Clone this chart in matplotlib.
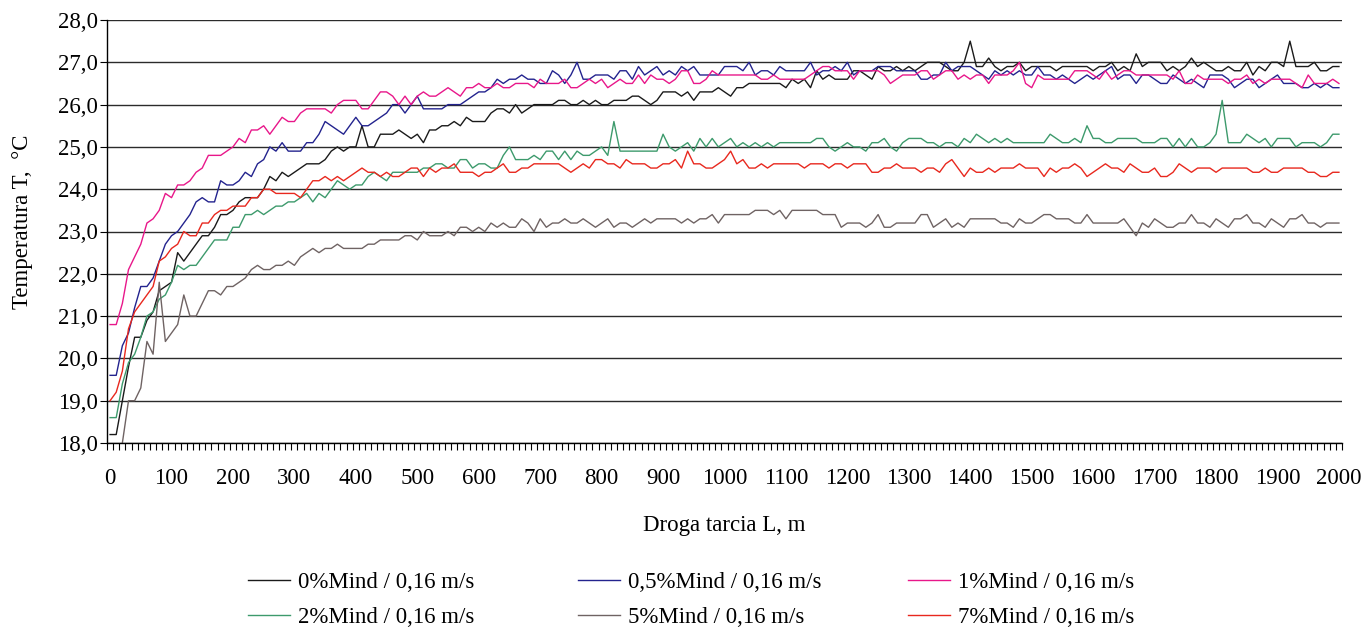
import numpy as np
import matplotlib
matplotlib.use('Agg')
import matplotlib.pyplot as plt
from matplotlib.ticker import FuncFormatter

plt.rcParams['font.family'] = ['Liberation Serif', 'DejaVu Serif']

# distance along the track, one reading every 10 m
distance = np.arange(0, 2001, 10)

t_0 = [
    18.2, 18.2, 19.0, 19.8, 20.5, 20.5, 20.9, 21.1, 21.6, 21.7,
    21.8, 22.5, 22.3, 22.5, 22.7, 22.9, 22.9, 23.1, 23.4, 23.4,
    23.5, 23.7, 23.8, 23.8, 23.8, 24.0, 24.3, 24.2, 24.4, 24.3,
    24.4, 24.5, 24.6, 24.6, 24.6, 24.7, 24.9, 25.0, 24.9, 25.0,
    25.0, 25.5, 25.0, 25.0, 25.3, 25.3, 25.3, 25.4, 25.3, 25.2,
    25.3, 25.1, 25.4, 25.4, 25.5, 25.5, 25.6, 25.5, 25.7, 25.6,
    25.6, 25.6, 25.8, 25.9, 25.9, 25.8, 26.0, 25.8, 25.9, 26.0,
    26.0, 26.0, 26.0, 26.1, 26.1, 26.0, 26.0, 26.1, 26.0, 26.1,
    26.0, 26.0, 26.1, 26.1, 26.1, 26.2, 26.2, 26.1, 26.0, 26.1,
    26.3, 26.3, 26.3, 26.2, 26.3, 26.1, 26.3, 26.3, 26.3, 26.4,
    26.3, 26.2, 26.4, 26.4, 26.5, 26.5, 26.5, 26.5, 26.5, 26.5,
    26.4, 26.6, 26.5, 26.6, 26.4, 26.8, 26.6, 26.7, 26.6, 26.6,
    26.6, 26.8, 26.8, 26.7, 26.6, 26.9, 26.8, 26.8, 26.9, 26.8,
    26.9, 26.8, 26.9, 27.0, 27.0, 27.0, 26.9, 26.8, 26.8, 27.0,
    27.5, 26.9, 26.9, 27.1, 26.9, 26.8, 26.9, 26.9, 27.0, 26.8,
    26.9, 26.9, 26.9, 26.9, 26.8, 26.9, 26.9, 26.9, 26.9, 26.9,
    26.8, 26.9, 26.9, 27.0, 26.8, 26.9, 26.8, 27.2, 26.9, 27.0,
    27.0, 27.0, 26.8, 26.9, 26.8, 26.9, 27.1, 26.9, 27.0, 26.9,
    26.8, 26.8, 26.9, 26.8, 26.8, 27.0, 26.7, 26.9, 26.8, 27.0,
    27.0, 26.9, 27.5, 26.9, 26.9, 26.9, 27.0, 26.8, 26.8, 26.9,
    26.9,
]

t_05 = [
    19.6, 19.6, 20.3, 20.6, 21.2, 21.7, 21.7, 21.9, 22.3, 22.7,
    22.9, 23.0, 23.2, 23.4, 23.7, 23.8, 23.7, 23.7, 24.2, 24.1,
    24.1, 24.2, 24.4, 24.3, 24.6, 24.7, 25.0, 24.9, 25.1, 24.9,
    24.9, 24.9, 25.1, 25.1, 25.3, 25.6, 25.5, 25.4, 25.3, 25.5,
    25.7, 25.5, 25.5, 25.6, 25.7, 25.8, 26.0, 26.0, 25.8, 26.0,
    26.2, 25.9, 25.9, 25.9, 25.9, 26.0, 26.0, 26.0, 26.1, 26.2,
    26.3, 26.3, 26.4, 26.6, 26.5, 26.6, 26.6, 26.7, 26.6, 26.6,
    26.5, 26.5, 26.8, 26.7, 26.5, 26.7, 27.0, 26.6, 26.6, 26.7,
    26.7, 26.7, 26.6, 26.8, 26.8, 26.6, 26.9, 26.7, 26.8, 26.9,
    26.7, 26.8, 26.7, 26.9, 26.8, 26.9, 26.7, 26.7, 26.7, 26.7,
    26.9, 26.9, 26.9, 26.8, 27.0, 26.7, 26.8, 26.8, 26.7, 26.9,
    26.8, 26.8, 26.8, 26.8, 27.0, 26.7, 26.8, 26.8, 26.9, 26.8,
    27.0, 26.7, 26.8, 26.8, 26.8, 26.9, 26.9, 26.9, 26.8, 26.8,
    26.8, 26.8, 26.6, 26.6, 26.7, 26.7, 27.0, 26.8, 26.9, 26.9,
    26.9, 26.8, 26.7, 26.6, 26.8, 26.7, 26.8, 26.7, 26.8, 26.7,
    26.7, 26.9, 26.7, 26.7, 26.6, 26.7, 26.6, 26.5, 26.6, 26.7,
    26.6, 26.7, 26.8, 26.9, 26.6, 26.7, 26.7, 26.5, 26.7, 26.7,
    26.6, 26.5, 26.5, 26.7, 26.6, 26.5, 26.6, 26.5, 26.4, 26.7,
    26.7, 26.7, 26.6, 26.4, 26.5, 26.6, 26.6, 26.4, 26.5, 26.6,
    26.7, 26.5, 26.5, 26.5, 26.4, 26.4, 26.5, 26.4, 26.5, 26.4,
    26.4,
]

t_1 = [
    20.8, 20.8, 21.3, 22.1, 22.4, 22.7, 23.2, 23.3, 23.5, 23.9,
    23.8, 24.1, 24.1, 24.2, 24.4, 24.5, 24.8, 24.8, 24.8, 24.9,
    25.0, 25.2, 25.1, 25.4, 25.4, 25.5, 25.3, 25.5, 25.7, 25.6,
    25.6, 25.8, 25.9, 25.9, 25.9, 25.9, 25.8, 26.0, 26.1, 26.1,
    26.1, 25.9, 25.9, 26.1, 26.3, 26.3, 26.2, 26.0, 26.2, 26.0,
    26.2, 26.3, 26.2, 26.2, 26.3, 26.4, 26.3, 26.2, 26.4, 26.4,
    26.5, 26.4, 26.4, 26.5, 26.4, 26.4, 26.5, 26.5, 26.5, 26.4,
    26.6, 26.5, 26.5, 26.5, 26.6, 26.4, 26.4, 26.5, 26.6, 26.5,
    26.6, 26.4, 26.5, 26.6, 26.5, 26.5, 26.7, 26.5, 26.7, 26.6,
    26.6, 26.5, 26.6, 26.8, 26.8, 26.5, 26.5, 26.6, 26.8, 26.7,
    26.7, 26.7, 26.7, 26.7, 26.7, 26.7, 26.6, 26.6, 26.7, 26.6,
    26.6, 26.6, 26.6, 26.6, 26.7, 26.8, 26.9, 26.9, 26.8, 26.8,
    26.8, 26.6, 26.8, 26.8, 26.8, 26.8, 26.7, 26.5, 26.6, 26.7,
    26.7, 26.7, 26.8, 26.8, 26.6, 26.7, 26.8, 26.8, 26.6, 26.7,
    26.6, 26.7, 26.7, 26.5, 26.7, 26.7, 26.7, 26.8, 27.0, 26.5,
    26.4, 26.7, 26.6, 26.6, 26.6, 26.6, 26.6, 26.8, 26.8, 26.8,
    26.7, 26.6, 26.8, 26.6, 26.7, 26.8, 26.8, 26.7, 26.7, 26.7,
    26.7, 26.7, 26.7, 26.6, 26.8, 26.5, 26.5, 26.7, 26.6, 26.6,
    26.6, 26.6, 26.5, 26.6, 26.6, 26.7, 26.5, 26.6, 26.5, 26.6,
    26.6, 26.6, 26.6, 26.5, 26.4, 26.7, 26.5, 26.5, 26.5, 26.6,
    26.5,
]

t_2 = [
    18.6, 18.6, 19.4, 19.9, 20.1, 20.5, 21.0, 21.1, 21.4, 21.5,
    21.8, 22.2, 22.1, 22.2, 22.2, 22.4, 22.6, 22.8, 22.8, 22.8,
    23.1, 23.1, 23.4, 23.4, 23.5, 23.4, 23.5, 23.6, 23.6, 23.7,
    23.7, 23.8, 23.9, 23.7, 23.9, 23.8, 24.0, 24.2, 24.1, 24.0,
    24.1, 24.1, 24.3, 24.4, 24.3, 24.2, 24.4, 24.4, 24.4, 24.4,
    24.4, 24.5, 24.5, 24.6, 24.6, 24.5, 24.5, 24.7, 24.7, 24.5,
    24.6, 24.6, 24.5, 24.5, 24.8, 25.0, 24.7, 24.7, 24.7, 24.8,
    24.7, 24.9, 24.9, 24.7, 24.9, 24.7, 24.9, 24.8, 24.8, 24.9,
    25.0, 24.8, 25.6, 24.9, 24.9, 24.9, 24.9, 24.9, 24.9, 24.9,
    25.3, 25.0, 24.9, 25.0, 25.1, 24.9, 25.2, 25.0, 25.2, 25.0,
    25.1, 25.2, 25.0, 25.1, 25.0, 25.1, 25.0, 25.1, 25.0, 25.1,
    25.1, 25.1, 25.1, 25.1, 25.1, 25.2, 25.2, 25.0, 24.9, 25.0,
    25.1, 25.0, 25.0, 24.9, 25.1, 25.1, 25.2, 25.0, 24.9, 25.1,
    25.2, 25.2, 25.2, 25.1, 25.1, 25.0, 25.1, 25.1, 25.0, 25.2,
    25.1, 25.3, 25.2, 25.1, 25.2, 25.1, 25.2, 25.1, 25.1, 25.1,
    25.1, 25.1, 25.1, 25.3, 25.2, 25.1, 25.1, 25.2, 25.1, 25.5,
    25.2, 25.2, 25.1, 25.1, 25.2, 25.2, 25.2, 25.2, 25.1, 25.1,
    25.1, 25.2, 25.2, 25.0, 25.2, 25.0, 25.2, 25.0, 25.0, 25.1,
    25.3, 26.1, 25.1, 25.1, 25.1, 25.3, 25.2, 25.1, 25.2, 25.0,
    25.2, 25.2, 25.2, 25.0, 25.1, 25.1, 25.1, 25.0, 25.1, 25.3,
    25.3,
]

t_5 = [
    17.6, 17.7, 18.0, 19.0, 19.0, 19.3, 20.4, 20.1, 21.8, 20.4,
    20.6, 20.8, 21.5, 21.0, 21.0, 21.3, 21.6, 21.6, 21.5, 21.7,
    21.7, 21.8, 21.9, 22.1, 22.2, 22.1, 22.1, 22.2, 22.2, 22.3,
    22.2, 22.4, 22.5, 22.6, 22.5, 22.6, 22.6, 22.7, 22.6, 22.6,
    22.6, 22.6, 22.7, 22.7, 22.8, 22.8, 22.8, 22.8, 22.9, 22.9,
    22.8, 23.0, 22.9, 22.9, 22.9, 23.0, 22.9, 23.1, 23.1, 23.0,
    23.1, 23.0, 23.2, 23.1, 23.2, 23.1, 23.1, 23.3, 23.2, 23.0,
    23.3, 23.1, 23.2, 23.2, 23.3, 23.2, 23.2, 23.3, 23.2, 23.1,
    23.2, 23.3, 23.1, 23.2, 23.2, 23.1, 23.2, 23.3, 23.2, 23.3,
    23.3, 23.3, 23.3, 23.2, 23.3, 23.2, 23.3, 23.3, 23.4, 23.2,
    23.4, 23.4, 23.4, 23.4, 23.4, 23.5, 23.5, 23.5, 23.4, 23.5,
    23.3, 23.5, 23.5, 23.5, 23.5, 23.5, 23.4, 23.4, 23.4, 23.1,
    23.2, 23.2, 23.2, 23.1, 23.2, 23.4, 23.1, 23.1, 23.2, 23.2,
    23.2, 23.2, 23.4, 23.4, 23.1, 23.2, 23.3, 23.1, 23.2, 23.1,
    23.3, 23.3, 23.3, 23.3, 23.3, 23.2, 23.2, 23.1, 23.3, 23.2,
    23.2, 23.3, 23.4, 23.4, 23.3, 23.3, 23.3, 23.2, 23.2, 23.4,
    23.2, 23.2, 23.2, 23.2, 23.2, 23.3, 23.1, 22.9, 23.2, 23.1,
    23.3, 23.2, 23.1, 23.1, 23.2, 23.2, 23.4, 23.2, 23.2, 23.1,
    23.3, 23.2, 23.1, 23.3, 23.3, 23.4, 23.2, 23.2, 23.1, 23.3,
    23.2, 23.1, 23.3, 23.3, 23.4, 23.2, 23.2, 23.1, 23.2, 23.2,
    23.2,
]

t_7 = [
    19.0, 19.2, 19.7, 20.7, 21.1, 21.3, 21.5, 21.7, 22.3, 22.4,
    22.6, 22.7, 23.0, 22.9, 22.9, 23.2, 23.2, 23.4, 23.5, 23.5,
    23.6, 23.6, 23.6, 23.8, 23.8, 24.0, 24.0, 23.9, 23.9, 23.9,
    23.9, 23.8, 24.0, 24.2, 24.2, 24.3, 24.2, 24.3, 24.2, 24.3,
    24.4, 24.5, 24.4, 24.4, 24.3, 24.4, 24.3, 24.3, 24.4, 24.5,
    24.5, 24.3, 24.5, 24.4, 24.5, 24.5, 24.6, 24.4, 24.4, 24.4,
    24.3, 24.4, 24.4, 24.5, 24.6, 24.4, 24.4, 24.5, 24.5, 24.6,
    24.6, 24.6, 24.6, 24.6, 24.5, 24.4, 24.5, 24.6, 24.5, 24.7,
    24.7, 24.6, 24.6, 24.5, 24.7, 24.6, 24.6, 24.6, 24.5, 24.5,
    24.6, 24.6, 24.7, 24.5, 24.9, 24.6, 24.6, 24.5, 24.5, 24.6,
    24.7, 24.9, 24.6, 24.7, 24.5, 24.5, 24.6, 24.5, 24.6, 24.6,
    24.6, 24.6, 24.6, 24.5, 24.6, 24.6, 24.6, 24.5, 24.6, 24.6,
    24.5, 24.6, 24.6, 24.6, 24.4, 24.4, 24.5, 24.5, 24.6, 24.5,
    24.5, 24.5, 24.4, 24.5, 24.5, 24.4, 24.6, 24.7, 24.5, 24.3,
    24.5, 24.4, 24.4, 24.5, 24.4, 24.5, 24.5, 24.5, 24.6, 24.5,
    24.5, 24.5, 24.3, 24.5, 24.4, 24.5, 24.5, 24.6, 24.5, 24.3,
    24.4, 24.5, 24.6, 24.5, 24.5, 24.4, 24.6, 24.5, 24.4, 24.4,
    24.5, 24.3, 24.3, 24.4, 24.6, 24.5, 24.4, 24.5, 24.5, 24.5,
    24.4, 24.5, 24.5, 24.5, 24.5, 24.5, 24.4, 24.4, 24.5, 24.4,
    24.4, 24.5, 24.5, 24.5, 24.5, 24.4, 24.4, 24.3, 24.3, 24.4,
    24.4,
]

labels = ['0%Mind / 0,16 m/s', '0,5%Mind / 0,16 m/s', '1%Mind / 0,16 m/s',
          '2%Mind / 0,16 m/s', '5%Mind / 0,16 m/s', '7%Mind / 0,16 m/s']
series = [t_0, t_05, t_1, t_2, t_5, t_7]
colors = ['#1a1a1a', '#23238e', '#e8178a', '#3d9a6c', '#6f6363', '#e8281e']

fs = 16.5

fig = plt.figure(figsize=(13.61, 6.27), dpi=100)
ax = fig.add_axes([107 / 1361, 1 - 443 / 627, 1235 / 1361, 423 / 627])

handles = []
for vals, lab, col in zip(series, labels, colors):
    assert len(vals) == len(distance)
    h, = ax.plot(distance, vals, color=col, lw=1.0, label=lab)
    handles.append(h)

ax.set_xlim(-5, 2005)
ax.set_ylim(18, 28)
ax.set_yticks(np.arange(18, 28.01, 1.0))
ax.yaxis.set_major_formatter(FuncFormatter(lambda v, p: f'{v:.1f}'.replace('.', ',')))
ax.set_xticks(np.arange(0, 2001, 100))
ax.set_xticks(np.arange(-5, 2006, 10), minor=True)
ax.tick_params(axis='x', which='major', length=0, pad=18, labelsize=fs)
ax.tick_params(axis='x', which='minor', length=5, width=0.8, direction='out')
ax.tick_params(axis='y', which='major', length=5, width=0.8, direction='out',
               labelsize=fs, pad=1.5)

ax.grid(axis='y', color='#2b2b2b', lw=1.0)
ax.set_axisbelow(True)
for s in ['top', 'right']:
    ax.spines[s].set_visible(False)
ax.spines['left'].set_linewidth(1.0)
ax.spines['bottom'].set_linewidth(1.0)

ax.set_ylabel('Temperatura T,  °C', fontsize=fs)
ax.yaxis.set_label_coords(-0.06, 0.522)
ax.set_xlabel('Droga tarcia L, m', fontsize=fs, labelpad=19)

# legend: three columns of two entries, equal column widths as in the source
col_left = [248, 578, 908]
for c, x0 in enumerate(col_left):
    idx = [c, c + 3]
    leg = fig.legend([handles[i] for i in idx], [labels[i] for i in idx],
                     loc='upper left', bbox_to_anchor=(x0 / 1361, 1 - 572 / 627),
                     frameon=False, fontsize=fs, handlelength=1.83,
                     handletextpad=0.35, labelspacing=0.62,
                     borderpad=0, borderaxespad=0)

fig.savefig('out.png', dpi=100)
